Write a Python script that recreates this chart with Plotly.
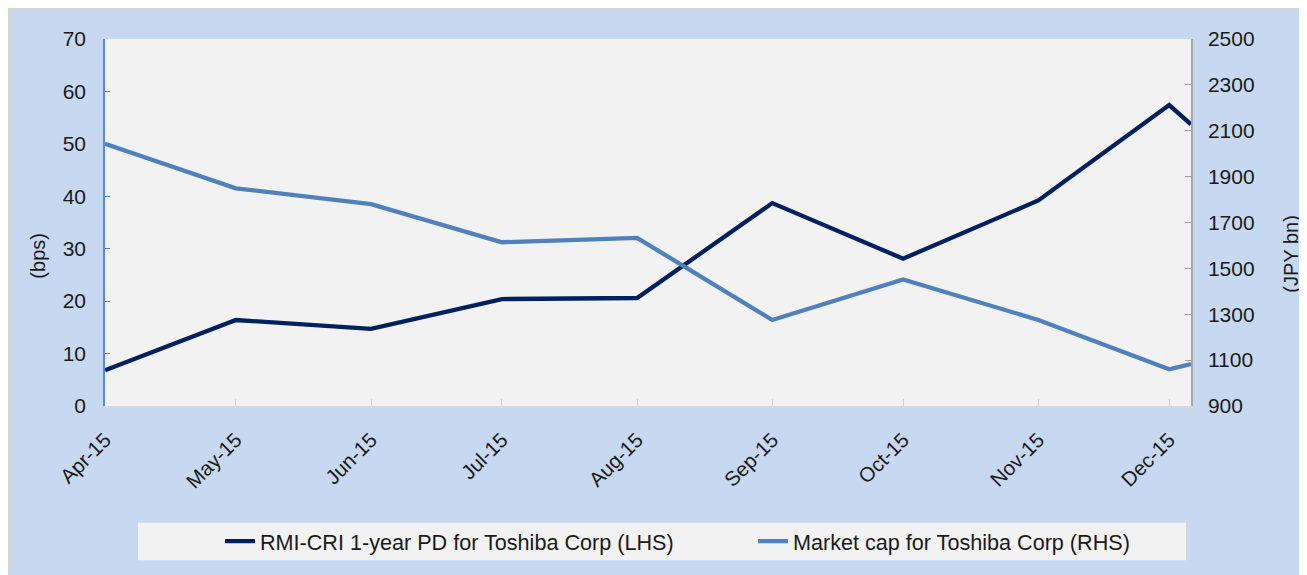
import plotly.graph_objects as go

# ---- data ----
dates = ["2015-04-01", "2015-05-01", "2015-06-01", "2015-07-01", "2015-08-01",
         "2015-09-01", "2015-10-01", "2015-11-01", "2015-12-01", "2015-12-06"]
pd_bps = [6.8, 16.4, 14.7, 20.4, 20.6, 38.7, 28.1, 39.2, 57.4, 53.7]
mcap_jpy_bn = [2043, 1849, 1780, 1614, 1633, 1275, 1452, 1275, 1060, 1083]

name_pd = "RMI-CRI 1-year PD for Toshiba Corp (LHS)"
name_mcap = "Market cap for Toshiba Corp (RHS)"
left_title = "(bps)"
right_title = "(JPY bn)"

# ---- layout geometry (pixels, figure-local; page adds an 8px body margin) ----
OFF = 8
W, H = 1307 - OFF, 575 - OFF
L, R, T, B = 105 - OFF, 1191 - OFF, 39 - OFF, 410 - OFF
pw, ph = R - L, B - T


def px(x):
    """reference page x -> paper coordinate"""
    return (x - OFF - L) / pw


def py(y):
    """reference page y -> paper coordinate"""
    return (B - (y - OFF)) / ph


FONT = "Liberation Sans, Arial, sans-serif"
TXT = "#1a1a1a"

fig = go.Figure()
fig.add_trace(go.Scatter(x=dates, y=pd_bps, name=name_pd, mode="lines",
                         line=dict(color="#002060", width=4.3)))
fig.add_trace(go.Scatter(x=dates, y=mcap_jpy_bn, name=name_mcap, mode="lines",
                         yaxis="y2", line=dict(color="#4f81bd", width=4.3)))

shapes = [
    # thin grey edge on top / left of the chart frame
    dict(type="rect", xref="paper", yref="paper", x0=px(8), x1=px(1307), y0=py(10), y1=py(8),
         fillcolor="#d6d6d6", line=dict(width=0), layer="below"),
    dict(type="rect", xref="paper", yref="paper", x0=px(8), x1=px(10), y0=py(575), y1=py(8),
         fillcolor="#d6d6d6", line=dict(width=0), layer="below"),
    # legend box
    dict(type="rect", xref="paper", yref="paper", x0=px(138), x1=px(1186), y0=py(566), y1=py(528),
         fillcolor="#f2f2f2", line=dict(width=0), layer="below"),
]

annotations = [
    dict(text=left_title, xref="paper", yref="paper", x=px(38), y=py(258), showarrow=False,
         textangle=-90, font=dict(family=FONT, size=20, color=TXT), xanchor="center", yanchor="middle"),
    dict(text=right_title, xref="paper", yref="paper", x=px(1291), y=py(257), showarrow=False,
         textangle=-90, font=dict(family=FONT, size=20, color=TXT), xanchor="center", yanchor="middle"),
]

fig.update_layout(
    width=W, height=H, autosize=False,
    margin=dict(l=L, r=W - R, t=T, b=H - B, pad=0),
    paper_bgcolor="#c6d9f0",
    plot_bgcolor="#f2f2f2",
    font=dict(family=FONT, size=21, color=TXT),
    showlegend=True,
    legend=dict(orientation="h", x=px(220), xanchor="left", y=py(547), yanchor="middle",
                bgcolor="rgba(0,0,0,0)", font=dict(family=FONT, size=21.6, color=TXT),
                entrywidth=488, entrywidthmode="pixels", itemwidth=30),
    xaxis=dict(type="date", range=[dates[0], dates[-1]], tick0="2015-04-01", dtick="M1",
               tickformat="%b-%y", tickangle=-45, ticks="inside", ticklen=7,
               tickcolor="#d0d0d0", showline=True, linecolor="#d9d9d9", linewidth=1.5,
               showgrid=False, zeroline=False, ticklabelstandoff=12,
               tickfont=dict(family=FONT, size=20.5, color=TXT)),
    yaxis=dict(range=[0, 70], tick0=0, dtick=10, ticks="inside", ticklen=5, tickcolor="#4f81bd",
               showline=True, linecolor="#5b8bd0", linewidth=1.5, showgrid=False,
               zeroline=False, ticklabelstandoff=13,
               tickfont=dict(family=FONT, size=21, color=TXT)),
    yaxis2=dict(range=[900, 2500], tick0=900, dtick=200, overlaying="y", side="right",
                ticks="inside", ticklen=6, tickcolor="#a0a0a0", showline=True,
                linecolor="#a6a6a6", linewidth=1.5, showgrid=False, zeroline=False,
                ticklabelstandoff=11, tickfont=dict(family=FONT, size=21, color=TXT)),
    shapes=shapes,
    annotations=annotations,
)

fig.write_html("out.html")
